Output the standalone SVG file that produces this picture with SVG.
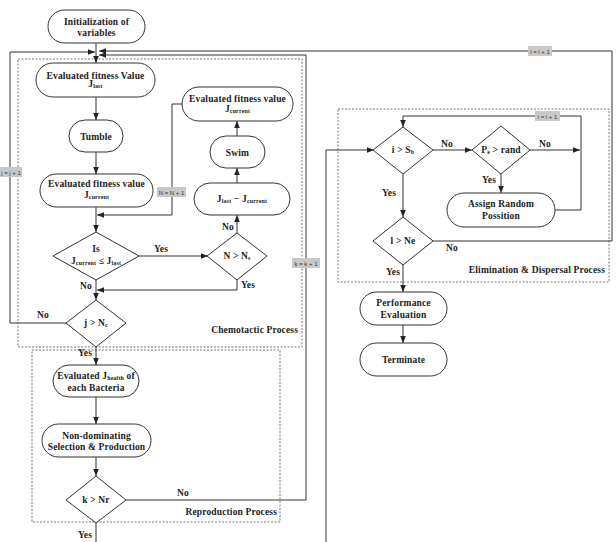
<svg xmlns="http://www.w3.org/2000/svg" width="616" height="542" viewBox="0 0 616 542">
<style>
.n{fill:#fff;stroke:#333;stroke-width:1}
.t{font-family:"Liberation Serif","Times New Roman",serif;font-weight:bold;font-size:9.5px;fill:#222;text-anchor:middle;letter-spacing:0.15px}
.s{font-size:6px}
.c{fill:none;stroke:#333;stroke-width:1}
.g{fill:none;stroke:#999;stroke-width:2}
.box{fill:none;stroke:#777;stroke-width:1;stroke-dasharray:2,1.5}
.pl{font-family:"Liberation Serif","Times New Roman",serif;font-weight:bold;font-size:9.5px;fill:#222;text-anchor:end;letter-spacing:0.15px}
.lb{fill:#c8c8c8}
.lt{font-family:"Liberation Sans",Arial,sans-serif;font-size:6px;fill:#333;text-anchor:middle}
</style>
<defs>
<marker id="a" viewBox="0 0 10 10" refX="10" refY="5" markerWidth="7" markerHeight="7" orient="auto" markerUnits="userSpaceOnUse"><path d="M0,1 L10,5 L0,9 z" fill="#222"/></marker>
</defs>
<rect width="616" height="542" fill="#fff"/>

<g id="boxes">
<rect class="box" x="18" y="59" width="284" height="288"/>
<rect class="box" x="32" y="350" width="248" height="172"/>
<rect class="box" x="338" y="109" width="271" height="173"/>
<text class="pl" x="298" y="333">Chemotactic Process</text>
<text class="pl" x="277" y="515">Reproduction Process</text>
<text class="pl" x="605" y="273">Elimination &amp; Dispersal Process</text>
</g>

<g id="connectors">
<path class="c" d="M96,43 V63" marker-end="url(#a)"/>
<path class="c" d="M67,323 H10 V52 H95" marker-end="url(#a)"/>
<path class="c" d="M433,241 H612 V51 H99" marker-end="url(#a)"/>
<path class="c" d="M126,500 H306 V55 H99" marker-end="url(#a)"/>
<path class="c" d="M96,97 V120" marker-end="url(#a)"/>
<path class="c" d="M96,152 V174" marker-end="url(#a)"/>
<path class="c" d="M96,207 V232" marker-end="url(#a)"/>
<path class="c" d="M182,104 H172 V215 H97" marker-end="url(#a)"/>
<path class="c" d="M139,256 H208" marker-end="url(#a)"/>
<path class="c" d="M237,233 V215" marker-end="url(#a)"/>
<path class="c" d="M237,183 V168" marker-end="url(#a)"/>
<path class="c" d="M237,136 V121" marker-end="url(#a)"/>
<path class="c" d="M237,280 V290 H97" marker-end="url(#a)"/>
<path class="c" d="M96,280 V300" marker-end="url(#a)"/>
<path class="c" d="M96,347 V365" marker-end="url(#a)"/>
<path class="c" d="M96,397 V424" marker-end="url(#a)"/>
<path class="c" d="M96,457 V476" marker-end="url(#a)"/>
<path class="c" d="M96,523 V542"/>
<path class="g" d="M326,542 V150"/>
<path class="c" d="M326,150 H374" marker-end="url(#a)"/>
<path class="c" d="M433,150 H472" marker-end="url(#a)"/>
<path class="c" d="M530,150 H580" marker-end="url(#a)"/>
<path class="c" d="M501,174 V193" marker-end="url(#a)"/>
<path class="c" d="M555,210 H581 V116 H403 V127" marker-end="url(#a)"/>
<path class="c" d="M403,174 V217" marker-end="url(#a)"/>
<path class="c" d="M403,265 V292" marker-end="url(#a)"/>
<path class="c" d="M403,325 V343" marker-end="url(#a)"/>

<rect class="lb" x="0" y="167" width="22" height="10"/>
<text class="lt" x="11" y="174.5">j = j + 1</text>
<rect class="lb" x="157" y="187" width="29" height="10"/>
<text class="lt" x="171.5" y="194.5">N = N + 1</text>
<rect class="lb" x="292" y="258" width="28" height="10"/>
<text class="lt" x="306" y="265.5">k = k + 1</text>
<rect class="lb" x="528" y="46" width="24" height="10"/>
<text class="lt" x="540" y="53.5">l = l + 1</text>
<rect class="lb" x="535" y="111" width="25" height="10"/>
<text class="lt" x="547.5" y="118.5">i = i + 1</text>

<text class="t" x="161" y="252">Yes</text>
<text class="t" x="228" y="230">No</text>
<text class="t" x="248" y="288">Yes</text>
<text class="t" x="86" y="289">No</text>
<text class="t" x="43" y="318">No</text>
<text class="t" x="85" y="356">Yes</text>
<text class="t" x="183" y="496">No</text>
<text class="t" x="85" y="538">Yes</text>
<text class="t" x="447" y="147">No</text>
<text class="t" x="545" y="147">No</text>
<text class="t" x="489" y="183">Yes</text>
<text class="t" x="389" y="196">Yes</text>
<text class="t" x="452" y="251">No</text>
<text class="t" x="393" y="275">Yes</text>
</g>

<g id="init">
<rect class="n" x="48" y="10" width="97" height="33" rx="16.5"/>
<text class="t" x="96.5" y="25">Initialization of</text>
<text class="t" x="96.5" y="36">variables</text>
</g>
<g id="evalLast">
<rect class="n" x="36" y="63" width="119" height="34" rx="17"/>
<text class="t" x="95.5" y="78.5">Evaluated fitness Value</text>
<text class="t" x="95.5" y="87" font-size="8">J<tspan class="s" dy="1">last</tspan></text>
</g>
<g id="tumble">
<rect class="n" x="69" y="120" width="54" height="32" rx="16"/>
<text class="t" x="96" y="139.5">Tumble</text>
</g>
<g id="evalCurrent">
<rect class="n" x="40" y="174" width="113" height="33" rx="16.5"/>
<text class="t" x="96.5" y="186.5">Evaluated fitness value</text>
<text class="t" x="96.5" y="198" font-size="8">J<tspan class="s" dy="1">current</tspan></text>
</g>
<g id="isDiamond">
<polygon class="n" points="96,232 139,256 96,280 53,256"/>
<text class="t" x="96" y="252">Is</text>
<text class="t" x="96" y="264" font-size="8">J<tspan class="s" dy="1">current</tspan><tspan dy="-1"> ≤ J</tspan><tspan class="s" dy="1">last</tspan></text>
</g>
<g id="nNs">
<polygon class="n" points="237,233 267,256 237,280 207,256"/>
<text class="t" x="237" y="259" font-size="8">N &gt; N<tspan class="s" dy="1">s</tspan></text>
</g>
<g id="jlastjcur">
<rect class="n" x="194" y="183" width="96" height="32" rx="16"/>
<text class="t" x="242" y="201.5" font-size="8">J<tspan class="s" dy="1">last</tspan><tspan dy="-1"> − J</tspan><tspan class="s" dy="1">current</tspan></text>
</g>
<g id="swim">
<rect class="n" x="210" y="136" width="55" height="32" rx="16"/>
<text class="t" x="237.5" y="155.5">Swim</text>
</g>
<g id="evalRight">
<rect class="n" x="182" y="87" width="111" height="34" rx="17"/>
<text class="t" x="237.5" y="101.5">Evaluated fitness value</text>
<text class="t" x="237.5" y="112" font-size="8">J<tspan class="s" dy="1">current</tspan></text>
</g>
<g id="jNc">
<polygon class="n" points="96,300 126,323 96,347 66,323"/>
<text class="t" x="96" y="326">j &gt; N<tspan class="s" dy="1">c</tspan></text>
</g>
<g id="health">
<rect class="n" x="53" y="365" width="86" height="32" rx="16"/>
<text class="t" x="96" y="378.5">Evaluated J<tspan class="s" dy="1">health</tspan><tspan dy="-1"> of</tspan></text>
<text class="t" x="96" y="390.5">each Bacteria</text>
</g>
<g id="nondom">
<rect class="n" x="42" y="424" width="109" height="33" rx="16.5"/>
<text class="t" x="96.5" y="438.5">Non-dominating</text>
<text class="t" x="96.5" y="449.5">Selection &amp; Production</text>
</g>
<g id="kNr">
<polygon class="n" points="96,476 126,500 96,523 66,500"/>
<text class="t" x="96" y="503">k &gt; Nr</text>
</g>
<g id="iSb">
<polygon class="n" points="403,127 433,150 403,174 373,150"/>
<text class="t" x="403" y="153">i &gt; S<tspan class="s" dy="1">b</tspan></text>
</g>
<g id="pe">
<polygon class="n" points="501,126 530,150 501,174 472,150"/>
<text class="t" x="501" y="153">P<tspan class="s" dy="1">e</tspan><tspan dy="-1"> &gt; rand</tspan></text>
</g>
<g id="assign">
<rect class="n" x="447" y="193" width="108" height="34" rx="17"/>
<text class="t" x="501" y="207">Assign Random</text>
<text class="t" x="501" y="219">Possition</text>
</g>
<g id="lNe">
<polygon class="n" points="403,217 433,241 403,265 373,241"/>
<text class="t" x="403" y="244">l &gt; Ne</text>
</g>
<g id="perf">
<rect class="n" x="360" y="292" width="87" height="33" rx="16.5"/>
<text class="t" x="403.5" y="306">Performance</text>
<text class="t" x="403.5" y="317.5">Evaluation</text>
</g>
<g id="terminate">
<rect class="n" x="360" y="343" width="87" height="33" rx="16.5"/>
<text class="t" x="403.5" y="362.5">Terminate</text>
</g>
</svg>
